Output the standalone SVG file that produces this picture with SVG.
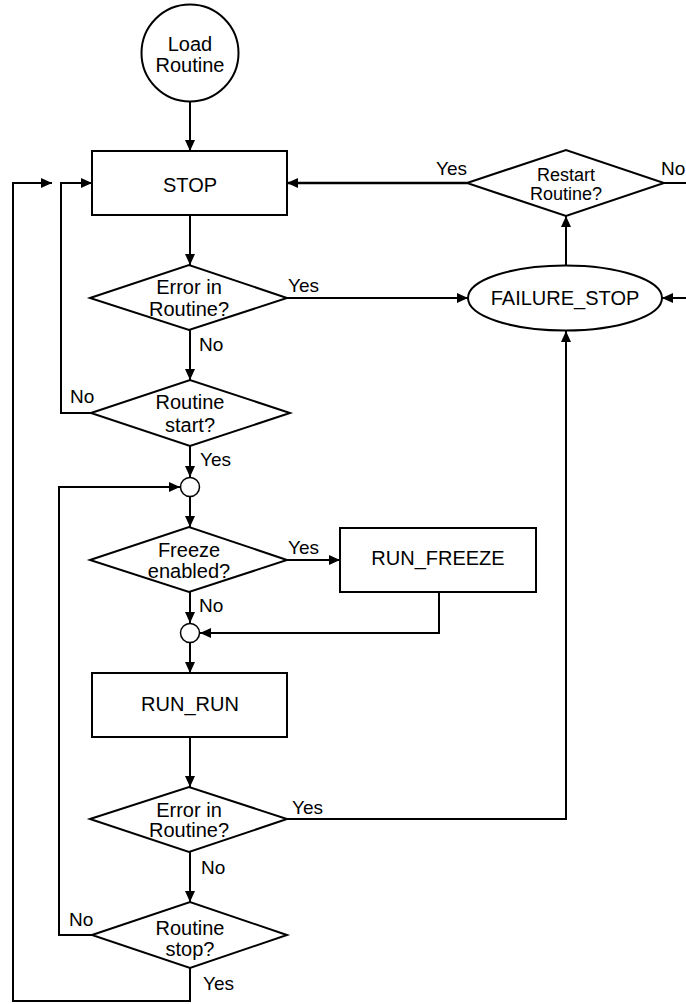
<svg xmlns="http://www.w3.org/2000/svg" width="686" height="1004" viewBox="0 0 686 1004">
<style>
.s{fill:#fff;stroke:#000;stroke-width:2}
.j{fill:#fff;stroke:#000;stroke-width:1.5}
.t{font-family:"Liberation Sans",Arial,sans-serif;font-size:20px;fill:#000;text-anchor:middle}
.ts{font-family:"Liberation Sans",Arial,sans-serif;font-size:18px;fill:#000;text-anchor:middle}
.l{font-family:"Liberation Sans",Arial,sans-serif;font-size:19px;fill:#000}
.c{fill:none;stroke:#000;stroke-width:2}
</style>
<defs>
<marker id="a" markerUnits="userSpaceOnUse" markerWidth="11" markerHeight="10" refX="11" refY="5" orient="auto">
<path d="M0,0 L11,5 L0,10 z" fill="#000"/>
</marker>
</defs>
<g id="connectors">
<path class="c" d="M190,102 V151" marker-end="url(#a)"/>
<path class="c" d="M190,215 V265" marker-end="url(#a)"/>
<path class="c" d="M190,330 V380" marker-end="url(#a)"/>
<path class="c" d="M91,413 H61 V183 H92" marker-end="url(#a)"/>
<path class="c" d="M190,446 V477" marker-end="url(#a)"/>
<path class="c" d="M190,497 V527" marker-end="url(#a)"/>
<path class="c" d="M287,560 H340" marker-end="url(#a)"/>
<path class="c" d="M190,592 V623" marker-end="url(#a)"/>
<path class="c" d="M439,592 V633 H200" marker-end="url(#a)"/>
<path class="c" d="M190,643 V673" marker-end="url(#a)"/>
<path class="c" d="M190,737 V787" marker-end="url(#a)"/>
<path class="c" d="M190,852 V902" marker-end="url(#a)"/>
<path class="c" d="M92,935 H59 V487 H180" marker-end="url(#a)"/>
<path class="c" d="M190,968 V1001 H13 V183 H52" marker-end="url(#a)"/>
<path class="c" d="M287,298 H468" marker-end="url(#a)"/>
<path class="c" d="M287,819 H566 V331" marker-end="url(#a)"/>
<path class="c" d="M566,266 V216" marker-end="url(#a)"/>
<path class="c" style="stroke-width:2.5" d="M467,183 H287" marker-end="url(#a)"/>
<path class="c" d="M664,183 H690"/>
<path class="c" d="M690,298 H662" marker-end="url(#a)"/>
</g>
<g id="load"><circle class="s" cx="190" cy="53" r="48.5"/><text class="t" x="190" y="51">Load</text><text class="t" x="190" y="72">Routine</text></g>
<g id="stop"><rect class="s" x="92" y="151" width="195" height="64"/><text class="t" x="190" y="192">STOP</text></g>
<g id="restart"><polygon class="s" points="467,183 566,150 664,183 566,216"/><text class="ts" x="566" y="181">Restart</text><text class="ts" x="566" y="200">Routine?</text></g>
<g id="failure"><ellipse class="s" cx="565" cy="298" rx="97" ry="32.5"/><text class="t" x="565" y="305">FAILURE_STOP</text></g>
<g id="error1"><polygon class="s" points="90,298 189,265 287,298 189,330"/><text class="t" x="189" y="294">Error in</text><text class="t" x="189" y="316">Routine?</text></g>
<g id="start"><polygon class="s" points="91,413 190,380 290,413 190,446"/><text class="t" x="190" y="409">Routine</text><text class="t" x="190" y="432">start?</text></g>
<g id="join1"><circle class="j" cx="190" cy="487" r="9.5"/></g>
<g id="freeze"><polygon class="s" points="90,560 189,527 287,560 189,592"/><text class="t" x="189" y="557">Freeze</text><text class="t" x="189" y="578">enabled?</text></g>
<g id="runfreeze"><rect class="s" x="340" y="528" width="196" height="64"/><text class="t" x="438" y="565">RUN_FREEZE</text></g>
<g id="join2"><circle class="j" cx="190" cy="633" r="9.5"/></g>
<g id="runrun"><rect class="s" x="92" y="673" width="195" height="64"/><text class="t" x="190" y="711">RUN_RUN</text></g>
<g id="error2"><polygon class="s" points="90,819 189,787 287,819 189,852"/><text class="t" x="189" y="817">Error in</text><text class="t" x="189" y="837">Routine?</text></g>
<g id="stopq"><polygon class="s" points="92,935 190,902 287,935 190,968"/><text class="t" x="190" y="935">Routine</text><text class="t" x="190" y="956">stop?</text></g>
<g id="labels">
<text class="l" x="436" y="175">Yes</text>
<text class="l" x="661" y="175">No</text>
<text class="l" x="288" y="292">Yes</text>
<text class="l" x="199" y="351">No</text>
<text class="l" x="70" y="403">No</text>
<text class="l" x="200" y="466">Yes</text>
<text class="l" x="288" y="554">Yes</text>
<text class="l" x="199" y="612">No</text>
<text class="l" x="292" y="814">Yes</text>
<text class="l" x="201" y="874">No</text>
<text class="l" x="69" y="926">No</text>
<text class="l" x="203" y="990">Yes</text>
</g>
</svg>
